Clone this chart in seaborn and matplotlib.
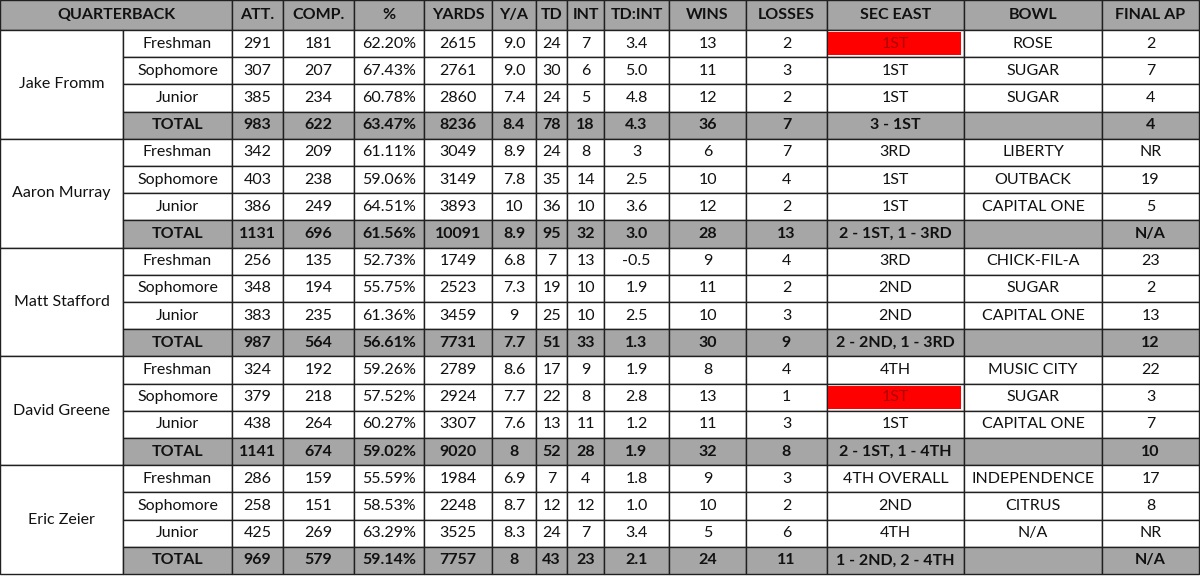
import matplotlib
matplotlib.use("Agg")
import matplotlib.pyplot as plt
from matplotlib.patches import Rectangle
import seaborn as sns

sns.set_theme(style="white")
plt.rcParams['font.family'] = ['Lato', 'DejaVu Sans']

headers = ["QUARTERBACK", "ATT.", "COMP.", "%", "YARDS", "Y/A", "TD", "INT", "TD:INT", "WINS", "LOSSES", "SEC EAST", "BOWL", "FINAL AP"]
players = ["Jake Fromm", "Aaron Murray", "Matt Stafford", "David Greene", "Eric Zeier"]
years = ["Freshman", "Sophomore", "Junior", "TOTAL"]
rows = [
    ["291", "181", "62.20%", "2615", "9.0", "24", "7", "3.4", "13", "2", "1ST", "ROSE", "2"],
    ["307", "207", "67.43%", "2761", "9.0", "30", "6", "5.0", "11", "3", "1ST", "SUGAR", "7"],
    ["385", "234", "60.78%", "2860", "7.4", "24", "5", "4.8", "12", "2", "1ST", "SUGAR", "4"],
    ["983", "622", "63.47%", "8236", "8.4", "78", "18", "4.3", "36", "7", "3 - 1ST", "", "4"],
    ["342", "209", "61.11%", "3049", "8.9", "24", "8", "3", "6", "7", "3RD", "LIBERTY", "NR"],
    ["403", "238", "59.06%", "3149", "7.8", "35", "14", "2.5", "10", "4", "1ST", "OUTBACK", "19"],
    ["386", "249", "64.51%", "3893", "10", "36", "10", "3.6", "12", "2", "1ST", "CAPITAL ONE", "5"],
    ["1131", "696", "61.56%", "10091", "8.9", "95", "32", "3.0", "28", "13", "2 - 1ST, 1 - 3RD", "", "N/A"],
    ["256", "135", "52.73%", "1749", "6.8", "7", "13", "-0.5", "9", "4", "3RD", "CHICK-FIL-A", "23"],
    ["348", "194", "55.75%", "2523", "7.3", "19", "10", "1.9", "11", "2", "2ND", "SUGAR", "2"],
    ["383", "235", "61.36%", "3459", "9", "25", "10", "2.5", "10", "3", "2ND", "CAPITAL ONE", "13"],
    ["987", "564", "56.61%", "7731", "7.7", "51", "33", "1.3", "30", "9", "2 - 2ND, 1 - 3RD", "", "12"],
    ["324", "192", "59.26%", "2789", "8.6", "17", "9", "1.9", "8", "4", "4TH", "MUSIC CITY", "22"],
    ["379", "218", "57.52%", "2924", "7.7", "22", "8", "2.8", "13", "1", "1ST", "SUGAR", "3"],
    ["438", "264", "60.27%", "3307", "7.6", "13", "11", "1.2", "11", "3", "1ST", "CAPITAL ONE", "7"],
    ["1141", "674", "59.02%", "9020", "8", "52", "28", "1.9", "32", "8", "2 - 1ST, 1 - 4TH", "", "10"],
    ["286", "159", "55.59%", "1984", "6.9", "7", "4", "1.8", "9", "3", "4TH OVERALL", "INDEPENDENCE", "17"],
    ["258", "151", "58.53%", "2248", "8.7", "12", "12", "1.0", "10", "2", "2ND", "CITRUS", "8"],
    ["425", "269", "63.29%", "3525", "8.3", "24", "7", "3.4", "5", "6", "4TH", "N/A", "NR"],
    ["969", "579", "59.14%", "7757", "8", "43", "23", "2.1", "24", "11", "1 - 2ND, 2 - 4TH", "", "N/A"],
]
red_cells = [(0, 10), (13, 10)]

xb = [0, 123, 232, 283, 354, 424, 492, 536, 567, 604, 669, 746, 827, 964, 1102, 1199]
top, hh, rh = 0, 30, 27.2
gray = "#a6a6a6"

fig = plt.figure(figsize=(12, 5.76), dpi=100)
ax = fig.add_axes([0, 0, 1, 1])
ax.set_xlim(0, 1200); ax.set_ylim(576, 0); ax.axis("off")

def rect(x0, y0, x1, y1, fc, lw=1.0):
    ax.add_patch(Rectangle((x0, y0), x1 - x0, y1 - y0, facecolor=fc, edgecolor="#202020", lw=lw))

# header
rect(xb[0], top, xb[2], hh, gray)
ax.text((xb[0] + xb[2]) / 2, hh / 2, headers[0], ha="center", va="center", fontsize=11.5, fontweight="bold", color="#111")
for j, h in enumerate(headers[1:]):
    x0, x1 = xb[j + 2], xb[j + 3]
    rect(x0, top, x1, hh, gray)
    ax.text((x0 + x1) / 2, hh / 2, h, ha="center", va="center", fontsize=11.5, fontweight="bold", color="#111")

for i, r in enumerate(rows):
    y0 = hh + i * rh; y1 = y0 + rh; yc = (y0 + y1) / 2
    total = (i % 4 == 3)
    fc = gray if total else "white"
    if i % 4 == 0:
        py1 = y0 + 4 * rh
        rect(xb[0], y0, xb[1], py1, "white")
        ax.text((xb[0] + xb[1]) / 2, (y0 + py1) / 2, players[i // 4], ha="center", va="center", fontsize=11.5, color="#111")
    rect(xb[1], y0, xb[2], y1, fc)
    ax.text((xb[1] + xb[2]) / 2, yc, years[i % 4], ha="center", va="center", fontsize=11.5,
            fontweight="bold" if total else "normal", color="#111")
    for j, v in enumerate(r):
        x0, x1 = xb[j + 2], xb[j + 3]
        rect(x0, y0, x1, y1, fc)
        col = "#111"
        if (i, j) in red_cells:
            ax.add_patch(Rectangle((x0 + 1, y0 + 2), x1 - x0 - 4, rh - 4, facecolor="#ff0000", edgecolor="none"))
            col = "#b00000"
        ax.text((x0 + x1) / 2, yc, v, ha="center", va="center", fontsize=11.5,
                fontweight="bold" if total else "normal", color=col)

fig.savefig("out.png", dpi=100)
